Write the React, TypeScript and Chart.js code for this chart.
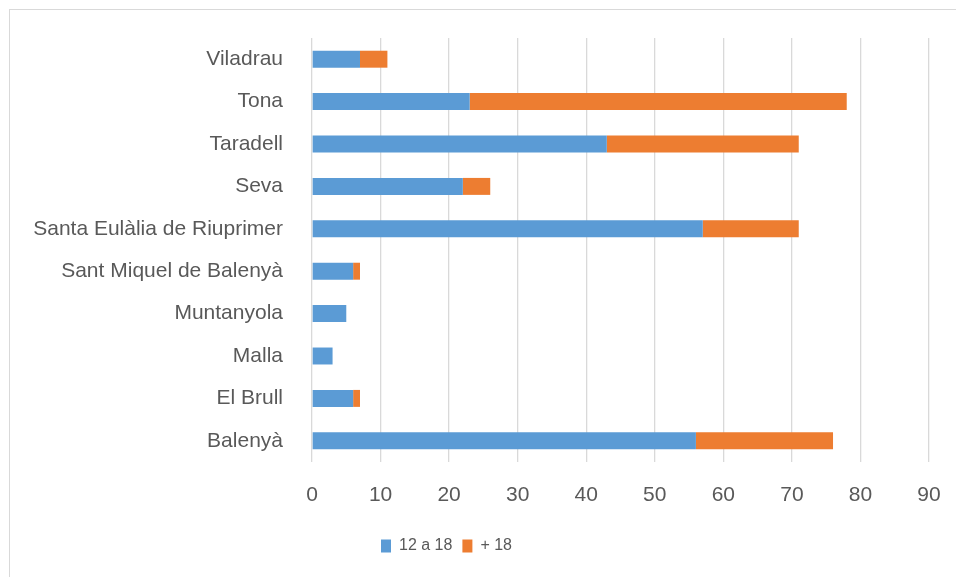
import React, { useEffect, useRef } from "react";
import { Chart, registerables } from "chart.js";

Chart.register(...registerables);

const categories = [
  "Viladrau",
  "Tona",
  "Taradell",
  "Seva",
  "Santa Eulàlia de Riuprimer",
  "Sant Miquel de Balenyà",
  "Muntanyola",
  "Malla",
  "El Brull",
  "Balenyà",
];
const series1Name = "12 a 18";
const series1 = [7, 23, 43, 22, 57, 6, 5, 3, 6, 56];
const series2Name = "+ 18";
const series2 = [4, 55, 28, 4, 14, 1, 0, 0, 1, 20];
const xMin = 0;
const xMax = 90;
const xStep = 10;

const TEXT = "#595959";
const GRID = "#d9d9d9";

const legendShift = {
  id: "legendShift",
  afterLayout(chart: any) {
    const lg = chart.legend;
    if (lg) {
      lg.left -= 18;
      lg.right -= 18;
    }
  },
};

export default function App() {
  const ref = useRef<HTMLCanvasElement>(null);
  useEffect(() => {
    if (!ref.current) return;
    const chart = new Chart(ref.current, {
      type: "bar",
      data: {
        labels: categories,
        datasets: [
          { label: series1Name, data: series1, backgroundColor: "#5b9bd5", barPercentage: 0.4, categoryPercentage: 1 },
          { label: series2Name, data: series2, backgroundColor: "#ed7d31", barPercentage: 0.4, categoryPercentage: 1 },
        ],
      },
      options: {
        indexAxis: "y",
        animation: false,
        responsive: false,
        maintainAspectRatio: false,
        layout: { padding: { top: 38, right: 27, bottom: 13, left: 0 } },
        scales: {
          x: {
            stacked: true,
            min: xMin,
            max: xMax,
            ticks: {
              stepSize: xStep,
              color: TEXT,
              padding: 0,
              font: { family: "'Liberation Sans', Arial, sans-serif", size: 21 },
            },
            grid: { color: GRID, lineWidth: 1.3, drawTicks: true, tickLength: 21, tickColor: "rgba(0,0,0,0)" },
            border: { display: false },
            afterFit(scale: any) {
              scale.height = 66;
            },
          },
          y: {
            stacked: true,
            ticks: {
              color: TEXT,
              padding: 0,
              font: { family: "'Liberation Sans', Arial, sans-serif", size: 21 },
            },
            grid: { display: false, drawTicks: true, tickLength: 29 },
            border: { display: false },
            afterFit(scale: any) {
              scale.width = 312;
            },
          },
        },
        plugins: {
          legend: {
            position: "bottom",
            labels: {
              color: TEXT,
              boxWidth: 10,
              boxHeight: 13,
              padding: 10,
              font: { family: "'Liberation Sans', Arial, sans-serif", size: 16 },
            },
          },
          tooltip: { enabled: false },
        },
      },
      plugins: [legendShift],
    });
    return () => chart.destroy();
  }, []);

  return (
    <div style={{ position: "fixed", left: 0, top: 0, width: 956, height: 577, overflow: "hidden", background: "#fff" }}>
      <div
        style={{
          position: "absolute",
          left: 9,
          top: 9,
          width: 1000,
          height: 1000,
          borderLeft: `1px solid ${GRID}`,
          borderTop: `1px solid ${GRID}`,
        }}
      />
      <canvas ref={ref} width={956} height={577} style={{ position: "absolute", left: 0, top: 0 }} />
    </div>
  );
}
